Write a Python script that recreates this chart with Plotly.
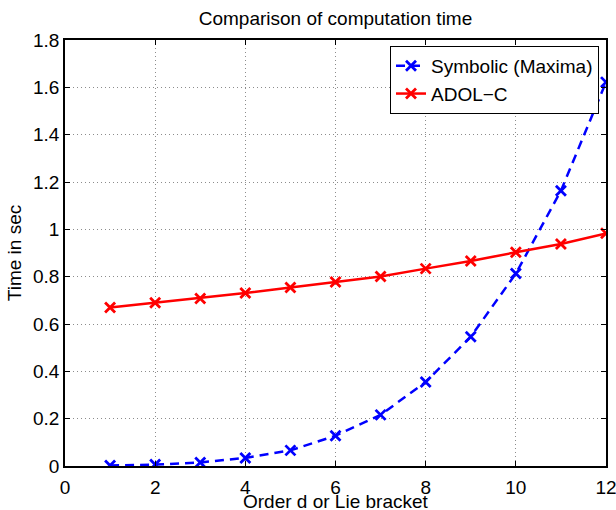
import plotly.graph_objects as go

order = [1, 2, 3, 4, 5, 6, 7, 8, 9, 10, 11, 12]
symbolic_maxima = [0.002, 0.006, 0.015, 0.034, 0.066, 0.128, 0.216, 0.355, 0.546, 0.813, 1.163, 1.622]
adol_c = [0.670, 0.690, 0.708, 0.731, 0.754, 0.777, 0.801, 0.834, 0.866, 0.903, 0.938, 0.983]

x_ticks = [0, 2, 4, 6, 8, 10, 12]
y_ticks = [0, 0.2, 0.4, 0.6, 0.8, 1.0, 1.2, 1.4, 1.6, 1.8]
y_tick_labels = ["0", "0.2", "0.4", "0.6", "0.8", "1", "1.2", "1.4", "1.6", "1.8"]

FONT = "Liberation Sans, Arial, sans-serif"
FS = 19

fig = go.Figure()
fig.add_trace(go.Scatter(
    x=order, y=symbolic_maxima, name="Symbolic (Maxima)", mode="lines+markers",
    line=dict(color="#0000ff", width=2.5, dash="9px,6px"),
    marker=dict(symbol="x-thin", size=10, line=dict(color="#0000ff", width=2.8)),
))
fig.add_trace(go.Scatter(
    x=order, y=adol_c, name="ADOL\u2212C", mode="lines+markers",
    line=dict(color="#ff0000", width=2.5),
    marker=dict(symbol="x-thin", size=10, line=dict(color="#ff0000", width=2.8)),
))

axis_common = dict(
    showline=True, linecolor="black", linewidth=1.5, mirror="ticks",
    ticks="inside", ticklen=5, tickcolor="black", tickwidth=1,
    showgrid=True, gridcolor="#8c8c8c", griddash="1px,3px", gridwidth=1,
    zeroline=False, tickfont=dict(family=FONT, size=FS, color="black"),
    automargin=False, ticklabeloverflow="allow",
)

fig.update_layout(
    width=616, height=510,
    margin=dict(l=65, r=10, t=40, b=44),
    paper_bgcolor="white", plot_bgcolor="white",
    font=dict(family=FONT, size=FS, color="black"),
    title=dict(text="Comparison of computation time", x=0.5, xref="paper", xanchor="center",
               y=1 - 18 / 510, yref="container", yanchor="middle", automargin=False,
               font=dict(family=FONT, size=FS, color="black")),
    xaxis=dict(range=[0, 12], tickvals=x_ticks, ticklabelstandoff=3, **axis_common),
    yaxis=dict(range=[0, 1.8], tickvals=y_ticks, ticktext=y_tick_labels,
               title=dict(text="Time in sec", standoff=6, font=dict(family=FONT, size=FS)), **axis_common),
    legend=dict(x=1 - 7 / 541, y=1 - 6 / 426, xanchor="right", yanchor="top",
                bordercolor="black", borderwidth=1, bgcolor="white",
                font=dict(family=FONT, size=FS, color="black"),
                tracegroupgap=0, itemwidth=30),
    showlegend=True,
    annotations=[dict(text="Order d or Lie bracket", xref="paper", yref="paper",
                      x=0.5, y=-(501 - 466) / 426, xanchor="center", yanchor="middle",
                      showarrow=False, font=dict(family=FONT, size=FS, color="black"))],
)

fig.write_html("out.html", post_script="document.body.style.margin='0';",
               config={"displayModeBar": False})
